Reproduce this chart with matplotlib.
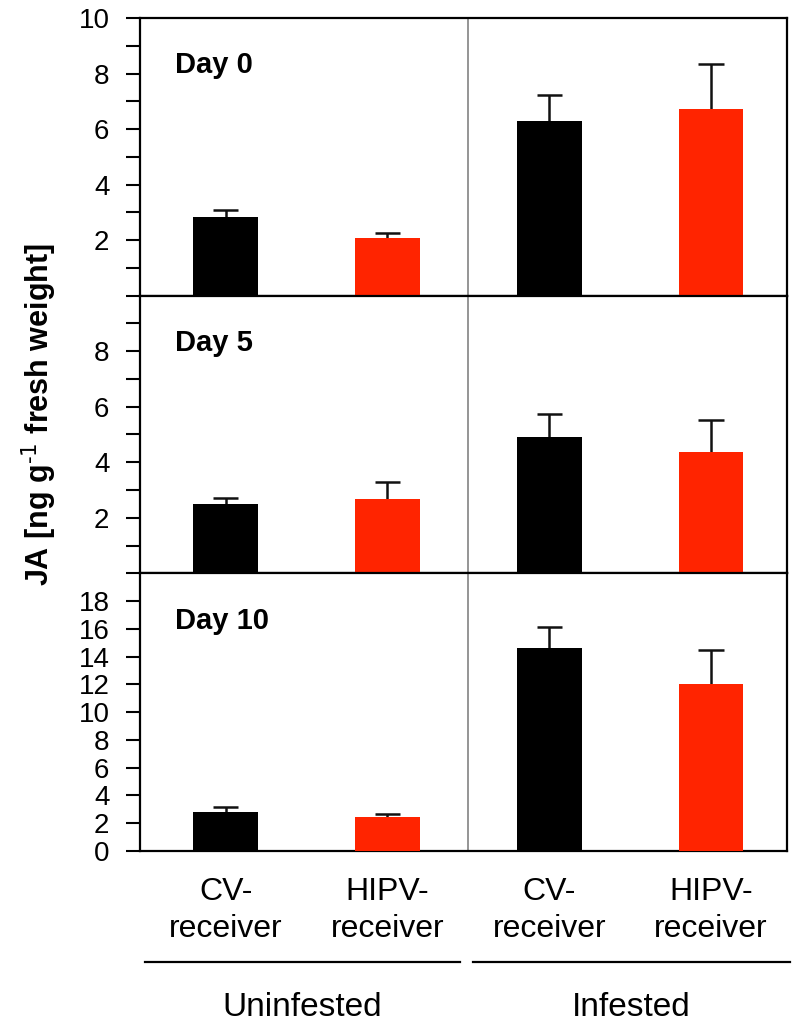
import matplotlib
matplotlib.use("Agg")
import matplotlib.pyplot as plt
import numpy as np

plt.rcParams['font.family'] = ['Liberation Sans', 'DejaVu Sans']
plt.rcParams['mathtext.default'] = 'regular'

# data
groups = ["Uninfested", "Infested"]
receivers = ["CV-\nreceiver", "HIPV-\nreceiver", "CV-\nreceiver", "HIPV-\nreceiver"]
days = ["Day 0", "Day 5", "Day 10"]
bar_colors = ["black", "#ff2400", "black", "#ff2400"]

day0_mean = [2.82, 2.08, 6.28, 6.73]
day0_err = [0.25, 0.16, 0.95, 1.60]
day5_mean = [2.50, 2.69, 4.92, 4.38]
day5_err = [0.22, 0.59, 0.82, 1.16]
day10_mean = [2.80, 2.45, 14.64, 12.02]
day10_err = [0.34, 0.24, 1.48, 2.46]

means = [day0_mean, day5_mean, day10_mean]
errs = [day0_err, day5_err, day10_err]
ylims = [10, 10, 20]

fig = plt.figure(figsize=(7.95, 10.22), dpi=100)
left, right = 140 / 795, 787 / 795
top_px, bot_px = 18, 851
h = (bot_px - top_px) / 3 / 1022

x = np.arange(4) + 0.5
axes = []
for i in range(3):
    y0 = 1 - (top_px / 1022) - (i + 1) * h
    ax = fig.add_axes([left, y0, right - left, h])
    axes.append(ax)
    m = np.array(means[i])
    e = np.array(errs[i])
    ax.bar(x, m, width=0.40, color=bar_colors, zorder=3)
    # upper error bars only
    ax.vlines(x, m, m + e, color='#111111', lw=1.8, zorder=2)
    ax.hlines(m + e, x - 0.078, x + 0.078, color='#111111', lw=1.8, zorder=2)
    ax.axvline(2.0, color='#8c8c8c', lw=1.3, zorder=1)
    ax.set_xlim(-0.03, 3.97)
    ax.set_ylim(0, ylims[i])
    ax.set_xticks([])
    if i < 2:
        n = 11 if i == 0 else 10
        ax.set_yticks(np.arange(0, n, 1))
        ax.set_yticklabels(["" if (v == 0 or v % 2) else str(v) for v in range(n)])
    else:
        ax.set_yticks(np.arange(0, 20, 2))
        ax.set_yticklabels([str(v) for v in range(0, 20, 2)])
    ax.tick_params(axis='y', direction='out', length=10, width=1.5,
                   labelsize=20, pad=12)
    for s in ax.spines.values():
        s.set_linewidth(1.6)
    ax.text(0.054, 0.83, days[i], transform=ax.transAxes, fontsize=21,
            fontweight='bold', ha='left', va='center')

axb = axes[2]
tr = axb.get_xaxis_transform()
for xi, lab in zip(x, receivers):
    axb.text(xi, -0.095, lab, transform=tr, ha='center', va='top',
             fontsize=23, linespacing=1.3)
for g, (a, b) in enumerate([(0.0, 1.95), (2.03, 3.99)]):
    axb.plot([a, b], [-0.40, -0.40], transform=tr, color='black', lw=1.6,
             clip_on=False)
    axb.text((a + b) / 2, -0.595, groups[g], transform=tr, ha='center',
             va='baseline', fontsize=24)

fig.text(0.05, 1 - 415 / 1022, r"JA [ng g$^{\text{-1}}$ fresh weight]",
         rotation=90, ha='center', va='center', fontsize=22, fontweight='bold')

fig.savefig("out.png", dpi=100)
